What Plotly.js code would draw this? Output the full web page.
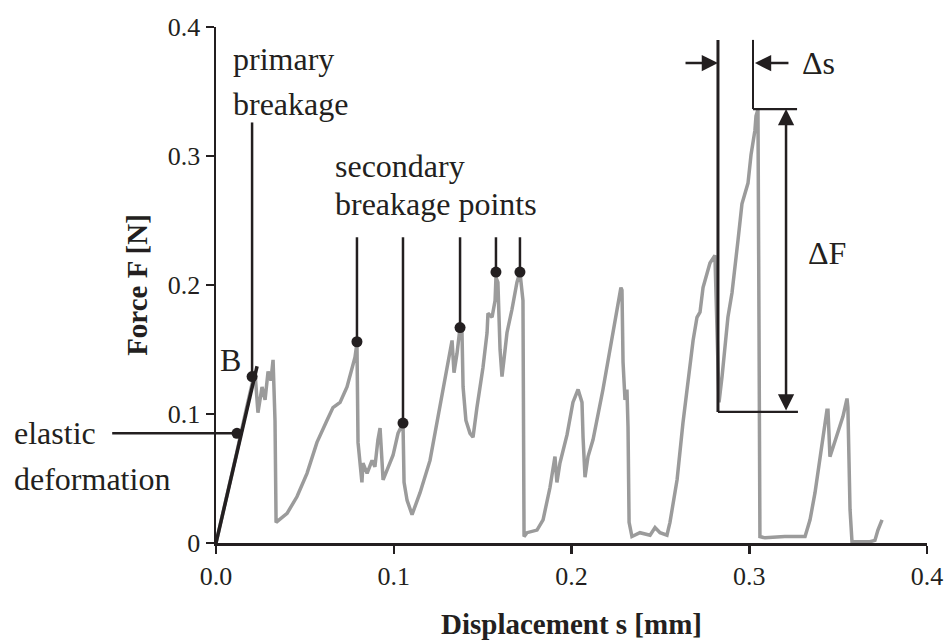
<!DOCTYPE html>
<html>
<head>
<meta charset="utf-8">
<script src="https://cdn.plot.ly/plotly-3.0.1.min.js"></script>
<style>
html,body{margin:0;padding:0;background:#fff;}
#chart{width:947px;height:640px;}
#chart svg text{font-family:'Liberation Serif','DejaVu Serif',serif !important;}
</style>
</head>
<body>
<div id="chart"></div>
<script>
// Displacement s [mm]
var dispX = [0, 0.0056, 0.0113, 0.0169, 0.0208, 0.0219, 0.0236, 0.0259, 0.0276, 0.0293,
  0.0309, 0.0321, 0.0332, 0.0338, 0.040, 0.0456, 0.0512, 0.0568, 0.0624, 0.0658,
  0.0698, 0.0737, 0.0782, 0.0793, 0.0799, 0.0821, 0.0827, 0.085, 0.0878, 0.0894,
  0.0911, 0.0923, 0.094, 0.0962, 0.0996, 0.1024, 0.1052, 0.1058, 0.1075, 0.1103,
  0.1148, 0.1204, 0.1249, 0.1288, 0.1316, 0.1328, 0.1339, 0.1356, 0.1373, 0.1384,
  0.139, 0.1406, 0.1429, 0.1446, 0.1468, 0.1502, 0.1525, 0.153, 0.1553, 0.157,
  0.1575, 0.1586, 0.1598, 0.1609, 0.162, 0.1637, 0.1665, 0.1693, 0.171, 0.1727,
  0.1733, 0.175, 0.1806, 0.184, 0.1879, 0.1907, 0.1918, 0.1935, 0.1975, 0.2008,
  0.2037, 0.2059, 0.2065, 0.2076, 0.2093, 0.2121, 0.2177, 0.2228, 0.2262, 0.2278,
  0.2284, 0.229, 0.2301, 0.2312, 0.2318, 0.2324, 0.234, 0.2385, 0.2442, 0.247,
  0.2498, 0.2537, 0.2554, 0.2594, 0.2627, 0.2655, 0.2684, 0.2706, 0.2723, 0.274,
  0.2762, 0.2779, 0.2807, 0.2813, 0.2819, 0.283, 0.2847, 0.2864, 0.288, 0.2903,
  0.292, 0.2937, 0.2959, 0.2993, 0.301, 0.3032, 0.3038, 0.3049, 0.3055, 0.306,
  0.3089, 0.32, 0.3314, 0.3342, 0.337, 0.3398, 0.3415, 0.3437, 0.3443, 0.3454,
  0.3471, 0.3499, 0.3527, 0.355, 0.3555, 0.3567, 0.3578, 0.3606, 0.3679, 0.3707,
  0.3724, 0.3747];
// Force F [N]
var forceY = [0, 0.033, 0.068, 0.103, 0.126, 0.133, 0.101, 0.121, 0.111, 0.133,
  0.126, 0.142, 0.095, 0.016, 0.023, 0.036, 0.054, 0.078, 0.095, 0.105,
  0.109, 0.121, 0.144, 0.155, 0.078, 0.047, 0.062, 0.054, 0.064, 0.059,
  0.080, 0.089, 0.049, 0.057, 0.068, 0.085, 0.093, 0.047, 0.033, 0.022,
  0.039, 0.064, 0.098, 0.126, 0.150, 0.157, 0.132, 0.147, 0.167, 0.163,
  0.121, 0.095, 0.085, 0.082, 0.105, 0.136, 0.163, 0.178, 0.175, 0.188,
  0.206, 0.202, 0.150, 0.129, 0.142, 0.163, 0.181, 0.202, 0.210, 0.188,
  0.005, 0.008, 0.010, 0.018, 0.043, 0.067, 0.047, 0.062, 0.084, 0.109,
  0.119, 0.109, 0.082, 0.051, 0.067, 0.080, 0.119, 0.160, 0.188, 0.198,
  0.196, 0.140, 0.111, 0.119, 0.090, 0.016, 0.005, 0.008, 0.006, 0.012,
  0.008, 0.006, 0.016, 0.049, 0.093, 0.126, 0.157, 0.175, 0.179, 0.198,
  0.209, 0.217, 0.223, 0.191, 0.144, 0.109, 0.129, 0.152, 0.175, 0.194,
  0.212, 0.235, 0.263, 0.279, 0.301, 0.320, 0.331, 0.336, 0.165, 0.005,
  0.004, 0.005, 0.005, 0.018, 0.039, 0.064, 0.082, 0.103, 0.103, 0.067,
  0.074, 0.085, 0.098, 0.112, 0.105, 0.026, 0.001, 0.001, 0.001, 0.002,
  0.010, 0.018];

// Marked points: elastic deformation, primary breakage, secondary breakage points
var markX = [0.0118, 0.0203, 0.0793, 0.1052, 0.1373, 0.1575, 0.171];
var markY = [0.085, 0.129, 0.156, 0.093, 0.167, 0.210, 0.210];

var xTickVals = [0, 0.1, 0.2, 0.3, 0.4];
var xTickText = ['0.0', '0.1', '0.2', '0.3', '0.4'];
var yTickVals = [0, 0.1, 0.2, 0.3, 0.4];
var yTickText = ['0', '0.1', '0.2', '0.3', '0.4'];

var INK = '#231f20';
var FONT = 'Liberation Serif';

var traces = [
  {x: dispX, y: forceY, type: 'scatter', mode: 'lines',
   line: {color: '#9b9b9b', width: 3.5}, hoverinfo: 'skip', showlegend: false},
  {x: markX, y: markY, type: 'scatter', mode: 'markers',
   marker: {color: INK, size: 11}, cliponaxis: false, showlegend: false}
];

function vline(x, y0, y1, w) {
  return {type: 'line', xref: 'x', yref: 'y', x0: x, x1: x, y0: y0, y1: y1,
          line: {color: INK, width: w || 2.5}, layer: 'above'};
}
function hline(x0, x1, y, w) {
  return {type: 'line', xref: 'x', yref: 'y', x0: x0, x1: x1, y0: y, y1: y,
          line: {color: INK, width: w || 2.5}, layer: 'above'};
}

var shapes = [
  {type: 'line', xref: 'x', yref: 'y', x0: 0, y0: 0, x1: 0.0231, y1: 0.137,
   line: {color: INK, width: 3.5}, layer: 'above'},
  {type: 'line', xref: 'paper', yref: 'y', x0: -0.146, x1: 0.0295, y0: 0.085, y1: 0.085,
   line: {color: INK, width: 2.5}, layer: 'above'},
  vline(0.0203, 0.129, 0.326),
  vline(0.0793, 0.156, 0.237),
  vline(0.1052, 0.093, 0.237),
  vline(0.1373, 0.167, 0.237),
  vline(0.1575, 0.210, 0.237),
  vline(0.171, 0.210, 0.237),
  vline(0.2824, 0.1016, 0.390, 3),
  hline(0.2824, 0.3274, 0.1016, 2.2),
  vline(0.3021, 0.3364, 0.390, 2),
  hline(0.3021, 0.3269, 0.3364, 2.2)
];

function txt(x, y, s, size, anchor, xref, yref) {
  return {x: x, y: y, xref: xref || 'x', yref: yref || 'y', text: s, showarrow: false,
          xanchor: anchor || 'left', yanchor: 'middle',
          font: {size: size || 32, color: INK}};
}
function arrow(x, y, ax, ay, side) {
  return {x: x, y: y, ax: ax, ay: ay, xref: 'x', yref: 'y', axref: 'x', ayref: 'y',
          text: '', showarrow: true, arrowhead: 2, arrowsize: 1.3, arrowwidth: 2.5,
          arrowcolor: INK, standoff: 0, startstandoff: 0,
          arrowside: side || 'end', startarrowhead: 2, startarrowsize: 1.3};
}

var annotations = [
  txt(0.0084, 0.375, 'primary'),
  txt(0.0084, 0.340, 'breakage'),
  txt(0.0658, 0.292, 'secondary'),
  txt(0.0658, 0.263, 'breakage points'),
  txt(-0.287, 0.2125, 'elastic', 32, 'left', 'paper', 'paper'),
  txt(-0.287, 0.125, 'deformation', 32, 'left', 'paper', 'paper'),
  txt(0.0084, 0.142, 'B', 32, 'center'),
  txt(0.3286, 0.372, '&#916;s'),
  txt(0.332, 0.225, '&#916;F'),
  arrow(0.2824, 0.372, 0.2633, 0.372),
  arrow(0.3032, 0.372, 0.3229, 0.372),
  arrow(0.3207, 0.3364, 0.3207, 0.1016, 'end+start')
];

var layout = {
  width: 947, height: 640,
  margin: {l: 216, r: 20, t: 27, b: 97},
  paper_bgcolor: '#fff', plot_bgcolor: '#fff',
  showlegend: false,
  font: {family: FONT, color: INK, size: 26},
  xaxis: {
    range: [0, 0.4], tickvals: xTickVals, ticktext: xTickText,
    showgrid: false, zeroline: false, showline: true, linecolor: INK, linewidth: 2.5,
    ticks: 'outside', ticklen: 8, tickwidth: 2.5, tickcolor: INK,
    tickfont: {size: 26, color: INK},
    title: {text: 'Displacement s [mm]', font: {size: 29, color: INK, weight: 'bold'}}
  },
  yaxis: {
    range: [0, 0.4], tickvals: yTickVals, ticktext: yTickText,
    showgrid: false, zeroline: false, showline: true, linecolor: INK, linewidth: 2.5,
    ticks: 'outside', ticklen: 8, tickwidth: 2.5, tickcolor: INK,
    tickfont: {size: 26, color: INK},
    title: {text: 'Force F [N]', font: {size: 29, color: INK, weight: 'bold'}}
  },
  shapes: shapes,
  annotations: annotations
};

Plotly.newPlot('chart', traces, layout, {displayModeBar: false, staticPlot: true});
</script>
</body>
</html>
